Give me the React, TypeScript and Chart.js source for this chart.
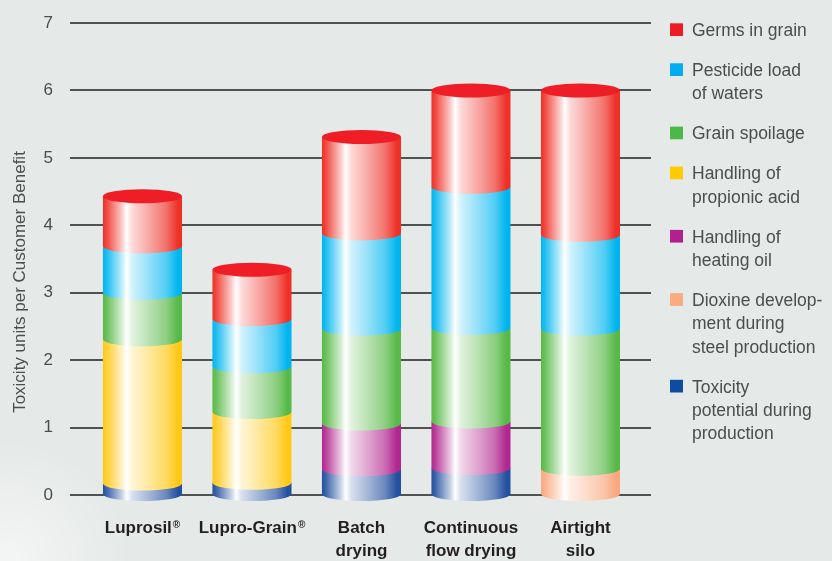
import { useEffect, useRef } from "react";
import { Chart, registerables } from "chart.js";

Chart.register(...registerables);

// ---- data ----
const CATEGORIES: string[][] = [
  ["Luprosil®"],
  ["Lupro-Grain®"],
  ["Batch", "drying"],
  ["Continuous", "flow drying"],
  ["Airtight", "silo"],
];
const X_POSITIONS = [0, 1, 2, 3, 4];
const Y_TICKS = [0, 1, 2, 3, 4, 5, 6, 7];
const Y_TITLE = "Toxicity units per Customer Benefit";

// stack order: bottom -> top
const TOXICITY_PRODUCTION = [0.17, 0.18, 0.38, 0.4, 0];
const DIOXINE = [0, 0, 0, 0, 0.39];
const HEATING_OIL = [0, 0, 0.68, 0.69, 0];
const PROPIONIC_ACID = [2.14, 1.05, 0, 0, 0];
const GRAIN_SPOILAGE = [0.69, 0.68, 1.41, 1.39, 2.08];
const PESTICIDE = [0.69, 0.7, 1.41, 2.09, 1.39];
const GERMS = [0.74, 0.73, 1.43, 1.43, 2.14];

const STACK = [
  TOXICITY_PRODUCTION,
  DIOXINE,
  HEATING_OIL,
  PROPIONIC_ACID,
  GRAIN_SPOILAGE,
  PESTICIDE,
  GERMS,
];
const STACK_LABELS = [
  ["Toxicity", "potential during", "production"],
  ["Dioxine develop-", "ment during", "steel production"],
  ["Handling of", "heating oil"],
  ["Handling of", "propionic acid"],
  ["Grain spoilage"],
  ["Pesticide load", "of waters"],
  ["Germs in grain"],
];

// ---- styles ----
const STACK_COLORS = ["#23509f", "#f9a87f", "#b1268f", "#ffc817", "#57b947", "#00b5ef", "#ee3026"];
const LEGEND_COLORS = ["#0e4c9f", "#f9ab82", "#b1218e", "#ffcb05", "#4db848", "#00aeef", "#ed1c24"];
const CAP_COLOR = "#ee1d26";
const BG = "#e5e9e8";
const FONT = "'Liberation Sans', Arial, Helvetica, sans-serif";

function rgb(hex: string): number[] {
  const n = parseInt(hex.slice(1), 16);
  return [(n >> 16) & 255, (n >> 8) & 255, n & 255];
}
function tint(hex: string, t: number): string {
  const [r, g, b] = rgb(hex);
  return `rgb(${Math.round(r + (255 - r) * t)},${Math.round(g + (255 - g) * t)},${Math.round(b + (255 - b) * t)})`;
}

const RY = 7;

const backgroundPlugin = {
  id: "bg",
  beforeDraw(chart: any) {
    const { ctx, width, height } = chart;
    ctx.save();
    ctx.fillStyle = BG;
    ctx.fillRect(0, 0, width, height);
    const g = ctx.createRadialGradient(10, 560, 5, 10, 560, 120);
    g.addColorStop(0, "rgba(255,255,255,0.55)");
    g.addColorStop(1, "rgba(255,255,255,0)");
    ctx.fillStyle = g;
    ctx.fillRect(0, 420, 160, 141);
    ctx.restore();
  },
};

const cylinderPlugin = {
  id: "cylinders",
  afterDatasetsDraw(chart: any) {
    const ctx = chart.ctx as CanvasRenderingContext2D;
    ctx.save();
    for (let j = 0; j < CATEGORIES.length; j++) {
      let top: any = null;
      for (let d = 0; d < STACK.length; d++) {
        const v = STACK[d][j];
        if (!v) continue;
        const el = chart.getDatasetMeta(d).data[j];
        if (!el) continue;
        const { x, y, base, width } = el.getProps(["x", "y", "base", "width"], true);
        const left = x - width / 2;
        const right = x + width / 2;
        const c = STACK_COLORS[d];
        const g = ctx.createLinearGradient(left, 0, right, 0);
        g.addColorStop(0, c);
        g.addColorStop(0.05, tint(c, 0.12));
        g.addColorStop(0.24, tint(c, 0.75));
        g.addColorStop(0.3, "#ffffff");
        g.addColorStop(0.37, tint(c, 0.82));
        g.addColorStop(0.55, tint(c, 0.62));
        g.addColorStop(0.8, tint(c, 0.32));
        g.addColorStop(0.95, c);
        g.addColorStop(1, c);
        ctx.fillStyle = g;
        ctx.beginPath();
        ctx.moveTo(left, y);
        ctx.lineTo(left, base);
        ctx.ellipse(x, base, width / 2, RY, 0, Math.PI, 0, true);
        ctx.lineTo(right, y);
        ctx.closePath();
        ctx.fill();
        top = { x, y, width };
      }
      if (top) {
        ctx.fillStyle = CAP_COLOR;
        ctx.beginPath();
        ctx.ellipse(top.x, top.y, top.width / 2, RY, 0, 0, Math.PI * 2);
        ctx.fill();
      }
    }
    ctx.restore();
  },
};

const textPlugin = {
  id: "texts",
  afterDraw(chart: any) {
    const ctx = chart.ctx as CanvasRenderingContext2D;
    const xs = chart.scales.x;
    const area = chart.chartArea;
    ctx.save();
    // y title
    ctx.fillStyle = "#4d4d4d";
    ctx.font = `17px ${FONT}`;
    ctx.textAlign = "center";
    ctx.textBaseline = "middle";
    ctx.translate(20, 282);
    ctx.rotate(-Math.PI / 2);
    ctx.fillText(Y_TITLE, 0, 0);
    ctx.setTransform(1, 0, 0, 1, 0, 0);

    // x category labels
    ctx.fillStyle = "#231f20";
    ctx.textBaseline = "alphabetic";
    ctx.textAlign = "left";
    CATEGORIES.forEach((lines, i) => {
      const cx = xs.getPixelForValue(X_POSITIONS[i]);
      lines.forEach((line, k) => {
        const baseY = area.bottom + 38 + k * 23;
        const hasR = line.endsWith("®");
        const main = hasR ? line.slice(0, -1) : line;
        ctx.font = `bold 17px ${FONT}`;
        const w1 = ctx.measureText(main).width;
        let w2 = 0;
        if (hasR) {
          ctx.font = `bold 10px ${FONT}`;
          w2 = ctx.measureText("®").width + 1;
        }
        const sx = cx - (w1 + w2) / 2;
        ctx.font = `bold 17px ${FONT}`;
        ctx.fillText(main, sx, baseY);
        if (hasR) {
          ctx.font = `bold 10px ${FONT}`;
          ctx.fillText("®", sx + w1 + 1, baseY - 5);
        }
      });
    });

    // legend (top item first = top of stack)
    ctx.font = `17.5px ${FONT}`;
    ctx.textAlign = "left";
    let baseline = 36;
    for (let d = STACK.length - 1; d >= 0; d--) {
      const lines = STACK_LABELS[d];
      ctx.fillStyle = LEGEND_COLORS[d];
      ctx.fillRect(670, baseline - 12.7, 13, 12.7);
      ctx.fillStyle = "#4d4d4d";
      lines.forEach((line, k) => ctx.fillText(line, 692, baseline + k * 23.3));
      baseline += lines.length * 23.3 + 16.7;
    }
    ctx.restore();
  },
};

export default function App() {
  const ref = useRef<HTMLCanvasElement | null>(null);
  useEffect(() => {
    if (!ref.current) return;
    const chart = new Chart(ref.current, {
      type: "bar",
      data: {
        datasets: STACK.map((arr, d) => ({
          label: STACK_LABELS[d].join(" "),
          data: X_POSITIONS.map((x, i) => ({ x, y: arr[i] })),
          backgroundColor: "rgba(0,0,0,0)",
          borderWidth: 0,
          categoryPercentage: 1,
          barPercentage: 0.722,
        })),
      },
      options: {
        responsive: false,
        animation: false,
        events: [],
        layout: { padding: { left: 8, right: 181, top: 23, bottom: 66 } },
        plugins: { legend: { display: false }, tooltip: { enabled: false }, title: { display: false } },
        scales: {
          x: {
            type: "linear",
            stacked: true,
            display: false,
            offset: false,
            min: -0.662,
            max: 4.644,
            afterBuildTicks: (scale: any) => {
              scale.ticks = X_POSITIONS.map((v) => ({ value: v }));
            },
          },
          y: {
            stacked: true,
            min: 0,
            max: 7,
            afterBuildTicks: (scale: any) => {
              scale.ticks = Y_TICKS.map((v) => ({ value: v }));
            },
            afterFit: (scale: any) => {
              scale.width = 62;
              scale.paddingTop = 0;
              scale.paddingBottom = 0;
            },
            ticks: {
              color: "#4d4d4d",
              padding: 17,
              font: { family: FONT, size: 17 },
            },
            grid: { color: "#505152", lineWidth: 2, drawTicks: false },
            border: { display: false },
          },
        },
      },
      plugins: [backgroundPlugin, cylinderPlugin, textPlugin],
    } as any);
    return () => chart.destroy();
  }, []);
  return (
    <div style={{ position: "absolute", left: 0, top: 0, width: 832, height: 561 }}>
      <canvas ref={ref} width={832} height={561} style={{ display: "block" }} />
    </div>
  );
}
